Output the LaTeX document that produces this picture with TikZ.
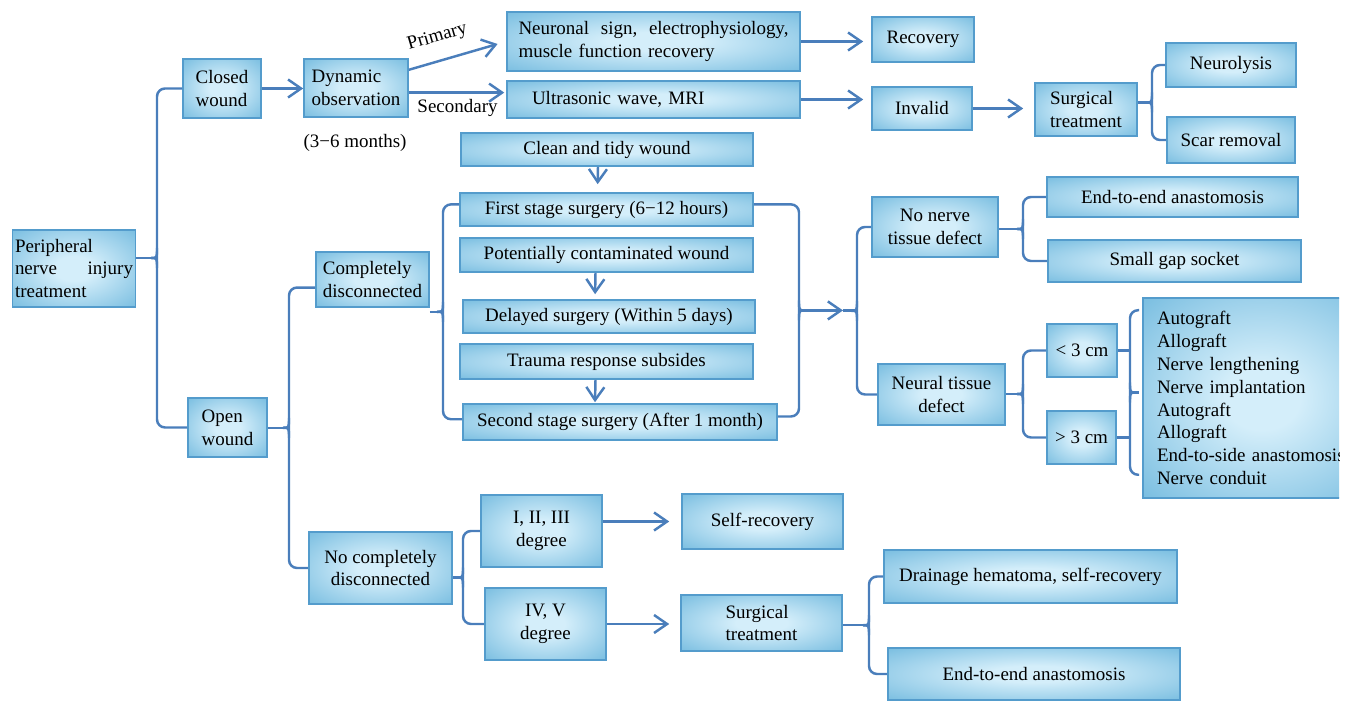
\documentclass[tikz,border=0pt]{standalone}
\usepackage{fontspec}
\setmainfont{Liberation Serif}
\usetikzlibrary{calc,arrows.meta}
\definecolor{boxin}{RGB}{212,238,250}
\definecolor{boxout}{RGB}{120,189,224}
\definecolor{boxline}{RGB}{84,156,204}
\definecolor{linkblue}{RGB}{74,126,187}
\pgfdeclareradialshading{glow}{\pgfpoint{0bp}{0bp}}{color(0bp)=(boxin); color(8bp)=(boxin); color(36bp)=(boxout); color(50bp)=(boxout)}
\newcommand{\boxfont}{\fontsize{10.8}{13}\selectfont}
\newcommand{\forkat}[4]{%
	\coordinate (fa) at (#1);
	\coordinate (fb) at (#2);
	\coordinate (fm) at ($(fa)!.5!(fb)$);
	\coordinate (fv) at (#3,0 |- fm);
	\draw[link, rounded corners=0.16cm] (fa) -| (fv) |- (fb);
	\draw[link] ($(fv)+(#4*6,0)$) .. controls (fv) .. ($(fv)+(0,-10)$);
	\draw[link] ($(fv)+(#4*6,0)$) .. controls (fv) .. ($(fv)+(0,10)$);
}
\begin{document}
\begin{tikzpicture}[x=0.02cm, y=-0.02cm, font=\boxfont]
	\tikzset{
		box/.style={draw=boxline, line width=0.9pt, shade, shading=glow, align=center},
		sz/.style 2 args={minimum width=#1cm, minimum height=#2cm},
		link/.style={draw=linkblue, line width=1.4pt},
		arrow/.style={link, -{Straight Barb[length=0.26cm, width=0.36cm]}, shorten >=0.16cm}
	}
	\useasboundingbox (0,0) rectangle (1347,702);
	\clip (0,0) rectangle (1339,702);
	\node[box, sz={2.46}{1.54}, text width=2.36cm, inner xsep=0.05cm, align=left] (peri) at (74,268.5) {Peripheral\\nerve\hfill injury\\treatment};
	\node[box, sz={1.56}{1.18}, align=left] (clo) at (222,88.5) {Closed\\wound};
	\node[box, sz={2.08}{1.16}, align=left] (dyn) at (356,88) {Dynamic\\observation};
	\node (months) at (355,143) {(3−6 months)};
	\node[box, sz={5.86}{1.18}, text width=5.4cm, inner xsep=0.23cm, align=left] (neu) at (653.5,41.5) {Neuronal\hfill sign,\hfill electrophysiology,\\muscle function recovery};
	\node[box, sz={5.86}{0.74}, text width=4.86cm, inner xsep=0.5cm, align=left] (ult) at (653.5,99.5) {Ultrasonic wave, MRI};
	\node[box, sz={2.04}{0.9}] (rec) at (923,39.5) {Recovery};
	\node[box, sz={2.0}{0.86}] (inv) at (922,108.5) {Invalid};
	\node[box, sz={2.04}{1.06}, align=left] (surga) at (1086,109.5) {Surgical\\treatment};
	\node[box, sz={2.6}{0.88}] (neuro) at (1231,65) {Neurolysis};
	\node[box, sz={2.56}{0.92}] (scar) at (1231,140) {Scar removal};
	\node[box, sz={5.84}{0.66}] (clean) at (607,149.5) {Clean and tidy wound};
	\node[box, sz={5.86}{0.66}] (first) at (606.5,209.5) {First stage surgery (6−12 hours)};
	\node[box, sz={5.86}{0.68}] (pot) at (606.5,255) {Potentially contaminated wound};
	\node[box, sz={5.84}{0.66}] (del) at (609,316.5) {Delayed surgery (Within 5 days)};
	\node[box, sz={5.86}{0.7}] (trau) at (606.5,361.5) {Trauma response subsides};
	\node[box, sz={6.28}{0.72}] (sec) at (620,422) {Second stage surgery (After 1 month)};
	\node[box, sz={2.26}{1.1}, align=left] (comp) at (372.5,279.5) {Completely\\disconnected};
	\node[box, sz={1.58}{1.18}, align=left] (open) at (227.5,427.5) {Open\\wound};
	\node[box, sz={2.52}{1.2}] (nonerve) at (935,227) {No nerve\\tissue defect};
	\node[box, sz={5.02}{0.8}] (eea) at (1172.5,197) {End-to-end anastomosis};
	\node[box, sz={5.06}{0.84}] (gap) at (1174.5,261) {Small gap socket};
	\node[box, sz={2.54}{1.22}] (neural) at (941.5,394.5) {Neural tissue\\defect};
	\node[box, sz={1.4}{1.06}] (lt) at (1082,350.5) {< 3 cm};
	\node[box, sz={1.38}{1.06}] (gt) at (1081.5,437.5) {> 3 cm};
	\node[box, sz={4.76}{4.0}, text width=4.2cm, inner xsep=0.28cm, align=left] (graft) at (1262,398) {Autograft\\Allograft\\Nerve lengthening\\Nerve implantation\\Autograft\\Allograft\\End-to-side anastomosis\\Nerve conduit};
	\node[box, sz={2.86}{1.44}] (nocomp) at (380.5,568) {No completely\\disconnected};
	\node[box, sz={2.42}{1.44}] (dega) at (541.5,531) {I, II, III\\degree};
	\node[box, sz={2.42}{1.44}] (degb) at (545.5,624) {IV, V\\degree};
	\node[box, sz={3.22}{1.1}] (self) at (762.5,521.5) {Self-recovery};
	\node[box, sz={3.22}{1.12}, align=left] (surgb) at (761.5,623) {Surgical\\treatment};
	\node[box, sz={5.86}{1.06}] (drain) at (1030.5,576.5) {Drainage hematoma, self-recovery};
	\node[box, sz={5.84}{1.04}] (eeb) at (1034,674) {End-to-end anastomosis};
	\draw[arrow, shorten >=0cm] (clo.east) -- (clo.east -| dyn.west);
	\draw[arrow, shorten >=0.18cm] (dyn.19) -- (neu.west) node[sloped, above=0.16cm, pos=0.36] {Primary};
	\draw[arrow, shorten >=0.04cm] (dyn.-5) -- (dyn.-5 -| ult.west) node[midway, below] {Secondary};
	\draw[arrow] (neu.east) -- (neu.east -| rec.west);
	\draw[arrow] (ult.east) -- (ult.east -| inv.west);
	\draw[arrow, shorten >=0.22cm] (inv.east) -- (inv.east -| surga.west);
	\draw[arrow] ($(clean.south)+(-9,0)$) -- ($(first.north)+(-9,0)$);
	\draw[arrow, shorten >=0.1cm] ($(pot.south)+(-11,0)$) -- ($(del.north)+(-14,0)$);
	\draw[arrow, shorten >=0.02cm] ($(trau.south)+(-11,0)$) -- ($(sec.north)+(-25,0)$);
	\draw[arrow, shorten >=0.24cm] (dega.east |- self.west) -- (self.west);
	\draw[arrow, shorten >=0.22cm] (degb.east) -- (degb.east -| surgb.west);
	\forkat{clo.west}{open.west}{157}{-1}
	\draw[link] (peri.east |- fm) -- (fv);
	\forkat{comp.-172}{nocomp.west}{289}{-1}
	\draw[link] (open.east |- fm) -- (fv);
	\forkat{first.178}{sec.179}{443}{-1}
	\draw[link] (comp.east |- fm) -- (fv);
	\forkat{first.2}{sec.2}{799}{1}
	\coordinate (jn) at (843,0 |- fm);
	\draw[arrow, shorten >=0cm] (fv) -- (jn);
	\forkat{nonerve.west}{neural.west}{857}{-1}
	\draw[link] (jn) -- (jn -| fv);
	\forkat{eea.west}{gap.west}{1023}{-1}
	\draw[link] (nonerve.east |- fm) -- (fv);
	\forkat{lt.west}{gt.west}{1023}{-1}
	\draw[link] (neural.east |- fm) -- (fv);
	\coordinate (ga) at ($(graft.north west)+(-3,13)$);
	\coordinate (gb) at ($(graft.south west)+(-3,-24)$);
	\forkat{ga}{gb}{1130}{1}
	\draw[link] (fv) -- (fv -| ga);
	\draw[link] (lt.east) -- (lt.east -| fv);
	\draw[link] (gt.east) -- (gt.east -| fv);
	\forkat{neuro.west}{scar.west}{1152}{-1}
	\draw[link] (surga.east |- fm) -- (fv);
	\forkat{dega.west}{degb.west}{463}{-1}
	\draw[link] (nocomp.east |- fm) -- (fv);
	\forkat{drain.west}{eeb.west}{869}{-1}
	\draw[link] (surgb.east |- fm) -- (fv);
\end{tikzpicture}
\end{document}
